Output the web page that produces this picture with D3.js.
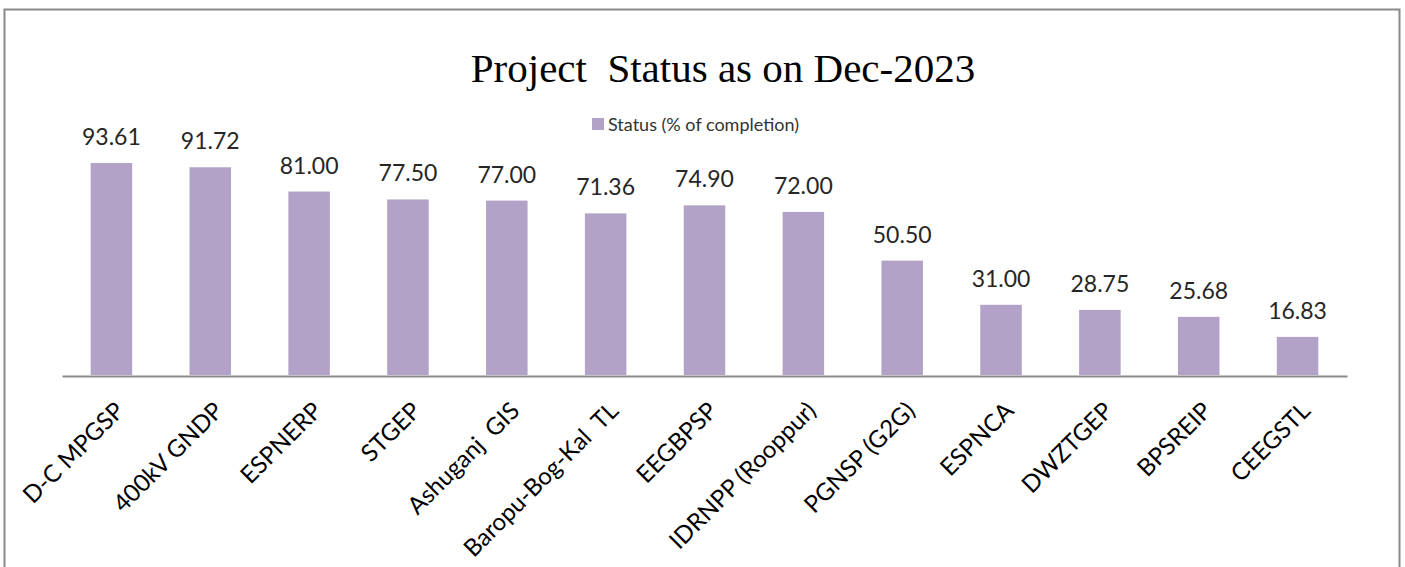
<!DOCTYPE html>
<html>
<head>
<meta charset="utf-8">
<script src="https://cdn.jsdelivr.net/npm/d3@7/dist/d3.min.js"></script>
<style>
  html, body { margin: 0; padding: 0; background: #ffffff; }
  svg { display: block; }
</style>
</head>
<body>
<svg id="chart" width="1405" height="567"></svg>
<script>
// ---- data ----
const categories = [
  "D-C MPGSP", "400kV GNDP", "ESPNERP", "STGEP", "Ashuganj  GIS",
  "Baropu-Bog-Kal  TL", "EEGBPSP", "IDRNPP (Rooppur)", "PGNSP (G2G)",
  "ESPNCA", "DWZTGEP", "BPSREIP", "CEEGSTL"
];
const statusValues = [93.61, 91.72, 81.00, 77.50, 77.00, 71.36, 74.90, 72.00, 50.50, 31.00, 28.75, 25.68, 16.83];
const seriesName = "Status (% of completion)";
const chartTitle = "Project  Status as on Dec-2023";
const valueDomain = [0, 100];

// ---- drawing ----
const svg = d3.select("#chart");

// chart frame
svg.append("rect")
  .attr("x", 4.5).attr("y", 9.5)
  .attr("width", 1395).attr("height", 620)
  .attr("fill", "#ffffff")
  .attr("stroke", "#8a8a8a")
  .attr("stroke-width", 2);

const x = d3.scaleBand()
  .domain(categories)
  .range([62, 1347])
  .paddingInner(0.58)
  .paddingOuter(0.29);

const y = d3.scaleLinear()
  .domain(valueDomain)
  .range([375, 148.5]);

const data = categories.map((c, i) => ({ cat: c, val: statusValues[i] }));

// title
svg.append("text")
  .attr("x", 723).attr("y", 82)
  .attr("text-anchor", "middle")
  .style("white-space", "pre")
  .attr("font-family", "'Liberation Serif', 'Times New Roman', serif")
  .attr("font-size", 41)
  .attr("fill", "#000")
  .text(chartTitle);

// legend
const lg = svg.append("g");
lg.append("rect")
  .attr("x", 592).attr("y", 118)
  .attr("width", 12).attr("height", 12)
  .attr("fill", "#b3a2c7");
lg.append("text")
  .attr("x", 608).attr("y", 124)
  .attr("dominant-baseline", "central")
  .attr("font-family", "Lato, 'Open Sans', sans-serif")
  .attr("font-size", 18)
  .attr("fill", "#333")
  .text(seriesName);

// bars
svg.append("g").selectAll("rect")
  .data(data)
  .join("rect")
  .attr("x", d => x(d.cat))
  .attr("y", d => y(d.val))
  .attr("width", x.bandwidth())
  .attr("height", d => y(0) - y(d.val))
  .attr("fill", "#b3a2c7");

// value labels
const fmt = d3.format(".2f");
svg.append("g").selectAll("text")
  .data(data)
  .join("text")
  .attr("x", d => x(d.cat) + x.bandwidth() / 2)
  .attr("y", d => y(d.val) - 18)
  .attr("text-anchor", "middle")
  .attr("font-family", "Lato, 'Open Sans', sans-serif")
  .attr("font-size", 23)
  .attr("fill", "#262626")
  .text(d => fmt(d.val));

// category axis
const axis = svg.append("g")
  .attr("transform", `translate(0,${y(0)})`)
  .call(d3.axisBottom(x).tickSize(0).tickSizeOuter(0).tickPadding(0));

axis.select(".domain")
  .attr("stroke", "#898989")
  .attr("stroke-width", 2)
  .attr("transform", "translate(0,1)");

axis.selectAll(".tick text")
  .attr("x", 0).attr("y", 0)
  .attr("dy", "0.72em")
  .attr("transform", "translate(2,25) rotate(-45)")
  .style("text-anchor", "end")
  .style("white-space", "pre")
  .attr("font-family", "Lato, 'Open Sans', sans-serif")
  .attr("font-size", 24)
  .attr("fill", "#000");
</script>
</body>
</html>
